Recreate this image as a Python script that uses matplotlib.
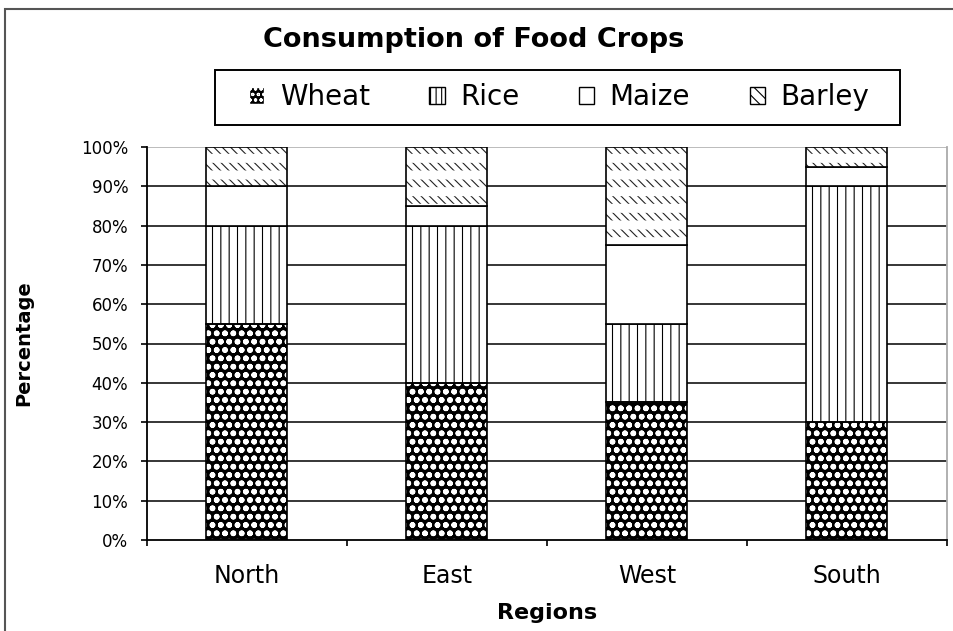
import numpy as np
import matplotlib.pyplot as plt
from matplotlib.patches import Patch, Rectangle

plt.rcParams['font.family'] = ['DejaVu Sans']
plt.rcParams['hatch.linewidth'] = 0.8

# data (percent of each region's food crop consumption)
regions = ['North', 'East', 'West', 'South']
wheat = [55, 40, 35, 30]
rice = [25, 40, 20, 60]
maize = [10, 5, 20, 5]
barley = [10, 15, 25, 5]
yticks = [0, 10, 20, 30, 40, 50, 60, 70, 80, 90, 100]

fig = plt.figure(figsize=(9.54, 6.31), dpi=100)
ax = fig.add_axes([147 / 954, 1 - 540 / 631, 800 / 954, 393 / 631])

x = np.arange(len(regions))
w = 0.405

# grid lines
for t in yticks[1:-1]:
    ax.axhline(t, color='black', lw=1.1, zorder=0)
ax.axhline(100, color='#aaaaaa', lw=1.1, zorder=0)

# wheat: black with white dots, then black outline
with plt.rc_context({'hatch.linewidth': 1.7}):
    ax.bar(x, wheat, w, color='black', edgecolor='white', hatch='oo', lw=0, zorder=2)
ax.bar(x, wheat, w, fill=False, edgecolor='black', lw=1.2, zorder=3)
bottom = np.array(wheat)
ax.bar(x, rice, w, bottom=bottom, color='white', edgecolor='black', hatch='||', lw=1.2, zorder=2)
bottom = bottom + np.array(rice)
ax.bar(x, maize, w, bottom=bottom, color='white', edgecolor='black', lw=1.2, zorder=2)
bottom = bottom + np.array(maize)
# barley: rows of short diagonal dashes (diagonals broken up by white stripes)
ax.bar(x, barley, w, bottom=bottom, color='white', edgecolor='#222222', hatch='\\\\\\\\', lw=0, zorder=2)
with plt.rc_context({'hatch.linewidth': 6.5}):
    ax.bar(x, barley, w, bottom=bottom, fill=False, edgecolor='white', hatch='-', lw=0, zorder=2.5)
ax.bar(x, barley, w, bottom=bottom, fill=False, edgecolor='black', lw=1.2, zorder=3)

ax.set_xlim(-0.5, 3.5)
ax.set_ylim(0, 100)
ax.set_yticks(yticks)
ax.set_yticklabels([f'{t}%' for t in yticks], fontsize=12)
ax.set_xticks(x)
ax.set_xticklabels(regions, fontsize=17)
ax.set_xticks(np.arange(-0.5, 4, 1), minor=True)
ax.tick_params(axis='x', which='major', length=0, pad=17)
ax.tick_params(axis='x', which='minor', length=4.5, width=1.2, direction='out')
ax.tick_params(axis='y', length=4.5, width=1.2, direction='out', pad=9)

for s in ['left', 'bottom']:
    ax.spines[s].set_linewidth(1.3)
ax.spines['top'].set_visible(False)
ax.spines['right'].set_color('#aaaaaa')
ax.spines['right'].set_linewidth(1.3)

ax.set_xlabel('Regions', fontsize=16, fontweight='bold')
ax.set_ylabel('Percentage', fontsize=14, fontweight='bold')
ax.xaxis.set_label_coords(0.5, -0.16)
ax.yaxis.set_label_coords(-0.1425, 0.5)

fig.text(0.496, 0.937, 'Consumption of Food Crops', ha='center', va='center',
         fontsize=19.5, fontweight='bold')

handles = [
    Patch(facecolor='black', edgecolor='white', hatch='ooo', label='Wheat'),
    Patch(facecolor='white', edgecolor='black', hatch='|||', label='Rice'),
    Patch(facecolor='white', edgecolor='black', label='Maize'),
    Patch(facecolor='white', edgecolor='black', hatch='\\\\\\', label='Barley'),
]
leg = fig.legend(handles=handles, loc='center', ncol=4,
                 bbox_to_anchor=(559 / 954, 1 - 97 / 631),
                 fontsize=20, frameon=False,
                 handlelength=0.55, handleheight=0.55, handletextpad=0.55,
                 columnspacing=2.15)

# legend box
fig.patches.append(Rectangle((215 / 954, 1 - 125 / 631), 685 / 954, 55 / 631,
                             transform=fig.transFigure, fill=False,
                             edgecolor='black', lw=1.4))

# outer chart border
fig.patches.append(Rectangle((5 / 954, -0.05), 1.1, 1 - 9 / 631 + 0.05,
                             transform=fig.transFigure, fill=False,
                             edgecolor='#555555', lw=1.5))

fig.savefig('out.png', dpi=100)
